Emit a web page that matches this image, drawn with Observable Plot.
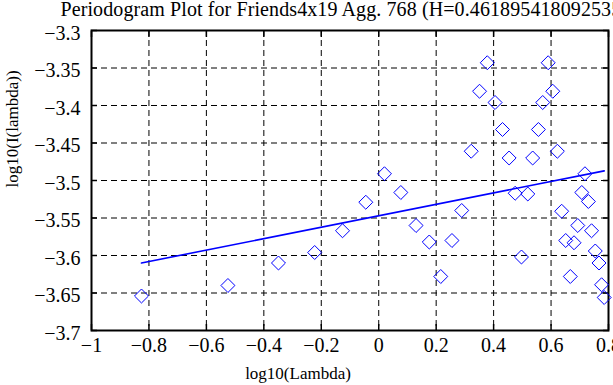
<!DOCTYPE html>
<html>
<head>
<meta charset="utf-8">
<script src="https://cdn.jsdelivr.net/npm/d3@7"></script>
<script src="https://cdn.jsdelivr.net/npm/@observablehq/plot@0.6"></script>
<style>
  html, body { margin: 0; padding: 0; background: #fff; }
  #chart { width: 613px; height: 385px; overflow: hidden; }
  #chart svg, #chart svg text { font-family: "Liberation Serif", "DejaVu Serif", serif !important; }
  #chart svg .title-text text { letter-spacing: 0.1px; }
</style>
</head>
<body>
<div id="chart"></div>
<script>
const titleText = "Periodogram Plot for Friends4x19 Agg. 768 (H=0.461895418092535)";
const xLabel = "log10(Lambda)";
const yLabel = "log10(I(lambda))";

const logLambda = [-0.826, -0.525, -0.349, -0.223, -0.126, -0.045, 0.020, 0.077, 0.130, 0.176,
  0.216, 0.255, 0.289, 0.322, 0.351, 0.378, 0.405, 0.431, 0.454, 0.475,
  0.497, 0.519, 0.536, 0.556, 0.571, 0.590, 0.606, 0.622, 0.637, 0.651,
  0.667, 0.680, 0.693, 0.707, 0.718, 0.730, 0.741, 0.754, 0.767, 0.776, 0.785];
const logI = [-3.654, -3.640, -3.610, -3.596, -3.567, -3.529, -3.491, -3.516, -3.560, -3.582,
  -3.628, -3.580, -3.540, -3.461, -3.381, -3.343, -3.396, -3.432, -3.470, -3.517,
  -3.602, -3.518, -3.470, -3.432, -3.396, -3.343, -3.381, -3.461, -3.541, -3.580,
  -3.628, -3.583, -3.560, -3.516, -3.491, -3.528, -3.567, -3.594, -3.610, -3.639, -3.656];

const fitX = [-0.826, 0.785];
const fitY = [-3.610, -3.4872];

const xTicks = [-1, -0.8, -0.6, -0.4, -0.2, 0, 0.2, 0.4, 0.6, 0.8];
const xTickLabels = ["\u22121", "\u22120.8", "\u22120.6", "\u22120.4", "\u22120.2", "0", "0.2", "0.4", "0.6", "0.8"];
const yTicks = [-3.7, -3.65, -3.6, -3.55, -3.5, -3.45, -3.4, -3.35, -3.3];
const yTickLabels = ["\u22123.7", "\u22123.65", "\u22123.6", "\u22123.55", "\u22123.5", "\u22123.45", "\u22123.4", "\u22123.35", "\u22123.3"];

const points = logLambda.map((x, i) => ({x, y: logI[i]}));
const fit = fitX.map((x, i) => ({x, y: fitY[i]}));

const font = "'Liberation Serif', 'DejaVu Serif', serif";
const blue = "#0000ff";

const chart = Plot.plot({
  width: 613,
  height: 385,
  marginLeft: 91,
  marginRight: 5,
  marginTop: 30,
  marginBottom: 55,
  style: {fontFamily: font, fontSize: "18px", background: "#fff", color: "#000", overflow: "visible"},
  x: {domain: [-1, 0.8]},
  y: {domain: [-3.7, -3.3]},
  marks: [
    Plot.gridX(xTicks, {stroke: "#000", strokeOpacity: 1, strokeDasharray: "6,4", strokeWidth: 1}),
    Plot.gridY(yTicks, {stroke: "#000", strokeOpacity: 1, strokeDasharray: "6,4", strokeWidth: 1}),
    Plot.axisX(xTicks, {anchor: "bottom", tickSize: 0, tickPadding: 7, label: null,
      tickFormat: (d) => xTickLabels[xTicks.indexOf(d)], fontSize: 20, fontFamily: font}),
    Plot.axisX(xTicks, {anchor: "bottom", tickSize: -6, text: null, label: null, strokeWidth: 1.5}),
    Plot.axisX(xTicks, {anchor: "top", tickSize: -6, text: null, label: null, strokeWidth: 1.5}),
    Plot.axisY(yTicks, {anchor: "left", tickSize: 0, tickPadding: 11, label: null, dy: 3,
      tickFormat: (d) => yTickLabels[yTicks.indexOf(d)], fontSize: 20, fontFamily: font}),
    Plot.axisY(yTicks, {anchor: "left", tickSize: -6, text: null, label: null, strokeWidth: 1.5}),
    Plot.axisY(yTicks, {anchor: "right", tickSize: -6, text: null, label: null, strokeWidth: 1.5}),
    Plot.frame({stroke: "#000", strokeWidth: 2}),
    Plot.dot(points, {x: "x", y: "y", symbol: "diamond2", r: 6.3, stroke: blue, strokeWidth: 1, fill: "none"}),
    Plot.line(fit, {x: "x", y: "y", stroke: blue, strokeWidth: 1.6}),
    Plot.text([titleText], {frameAnchor: "top-left", textAnchor: "start", lineAnchor: "middle", dx: -31, dy: -21, fontSize: 20, fontFamily: font, className: "title-text"}),
    Plot.text([xLabel], {frameAnchor: "bottom", lineAnchor: "middle", dx: -52, dy: 43, fontSize: 17, fontFamily: font}),
    Plot.text([yLabel], {frameAnchor: "left", lineAnchor: "middle", rotate: -90, dx: -79, dy: 7, fontSize: 17, fontFamily: font})
  ]
});
document.getElementById("chart").appendChild(chart);
</script>
</body>
</html>
